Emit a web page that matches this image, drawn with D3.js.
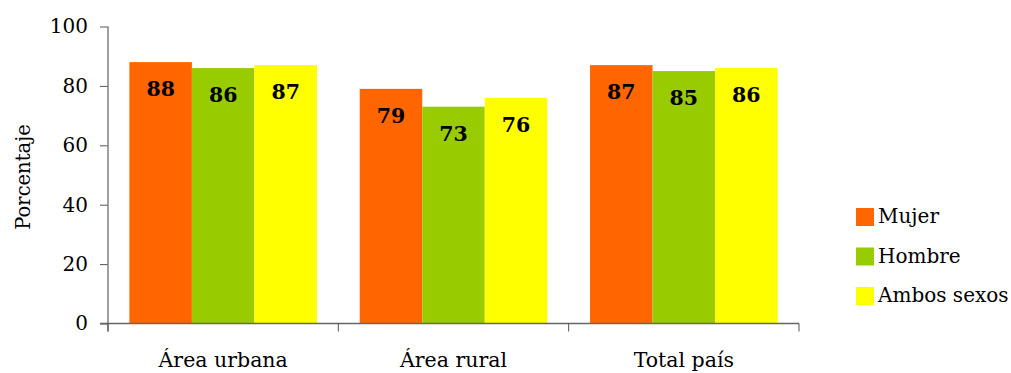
<!DOCTYPE html>
<html>
<head>
<meta charset="utf-8">
<script src="https://cdn.jsdelivr.net/npm/d3@7"></script>
<style>
  html, body { margin: 0; padding: 0; background: #fff; }
  svg text { font-family: "DejaVu Serif", "Liberation Serif", serif; fill: #000; }
</style>
</head>
<body>
<svg id="chart" width="1011" height="373"></svg>
<script>
// Categories, series and values
const categories = ["Área urbana", "Área rural", "Total país"];
const seriesNames = ["Mujer", "Hombre", "Ambos sexos"];
const mujer = [88, 79, 87];
const hombre = [86, 73, 85];
const ambos = [87, 76, 86];
const yTicks = [0, 20, 40, 60, 80, 100];
const colors = ["#FF6600", "#99CC00", "#FFFF00"];

const seriesValues = [mujer, hombre, ambos];

const svg = d3.select("#chart");
const plot = { left: 108, right: 799, top: 26.5, bottom: 323.5 };

const x = d3.scaleBand()
  .domain(categories)
  .range([plot.left, plot.right])
  .paddingInner(0)
  .paddingOuter(0);

const xInner = d3.scaleBand()
  .domain(seriesNames)
  .range([0, x.bandwidth()])
  .paddingInner(0)
  .paddingOuter(0.342);

const y = d3.scaleLinear()
  .domain([0, 100])
  .range([plot.bottom, plot.top]);

// Bars
const groups = svg.append("g")
  .selectAll("g")
  .data(categories)
  .join("g")
  .attr("transform", d => `translate(${x(d)},0)`);

groups.selectAll("rect")
  .data((c, i) => seriesNames.map((s, j) => ({ s, j, v: seriesValues[j][i] })))
  .join("rect")
  .attr("x", d => xInner(d.s))
  .attr("width", xInner.bandwidth())
  .attr("y", d => y(d.v))
  .attr("height", d => y(0) - y(d.v))
  .attr("fill", d => colors[d.j]);

// Value labels inside the bars
groups.selectAll("text.val")
  .data((c, i) => seriesNames.map((s, j) => ({ s, j, v: seriesValues[j][i] })))
  .join("text")
  .attr("class", "val")
  .attr("x", d => xInner(d.s) + xInner.bandwidth() / 2)
  .attr("y", d => y(d.v) + 34)
  .attr("text-anchor", "middle")
  .style("font-size", "20.5px")
  .style("font-weight", "bold")
  .text(d => d.v);

// Y axis
const yAxis = d3.axisLeft(y)
  .tickValues(yTicks)
  .tickSize(8)
  .tickPadding(12)
  .tickFormat(d3.format("d"));

const gy = svg.append("g")
  .attr("transform", `translate(${plot.left},0)`)
  .call(yAxis);
gy.select(".domain").remove();
gy.selectAll(".tick line").attr("stroke", "#555");
gy.selectAll(".tick text").style("font-size", "20px").attr("fill", "#000");
gy.append("line")
  .attr("x1", 0).attr("x2", 0)
  .attr("y1", plot.top).attr("y2", plot.bottom + 8)
  .attr("stroke", "#808080").attr("stroke-width", 1.5);

// X axis with ticks at band boundaries
const gx = svg.append("g");
gx.append("line")
  .attr("x1", plot.left - 8).attr("x2", plot.right)
  .attr("y1", plot.bottom).attr("y2", plot.bottom)
  .attr("stroke", "#666").attr("stroke-width", 1.5);
const boundaries = categories.map(c => x(c)).concat([x(categories[categories.length - 1]) + x.bandwidth()]);
gx.selectAll("line.tk")
  .data(boundaries)
  .join("line")
  .attr("class", "tk")
  .attr("x1", d => d).attr("x2", d => d)
  .attr("y1", plot.bottom).attr("y2", plot.bottom + 8)
  .attr("stroke", "#555");
gx.selectAll("text")
  .data(categories)
  .join("text")
  .attr("x", d => x(d) + x.bandwidth() / 2)
  .attr("y", 367)
  .attr("text-anchor", "middle")
  .style("font-size", "20.5px")
  .text(d => d);

// Y axis title
svg.append("text")
  .attr("transform", "translate(30,177) rotate(-90)")
  .attr("text-anchor", "middle")
  .style("font-size", "19.5px")
  .text("Porcentaje");

// Legend
const legend = svg.append("g")
  .selectAll("g")
  .data(seriesNames)
  .join("g")
  .attr("transform", (d, i) => `translate(856,${208 + i * 39.5})`);
legend.append("rect")
  .attr("width", 18).attr("height", 18)
  .attr("fill", (d, i) => colors[i]);
legend.append("text")
  .attr("x", 22).attr("y", 15)
  .style("font-size", "20px")
  .text(d => d);
</script>
</body>
</html>
